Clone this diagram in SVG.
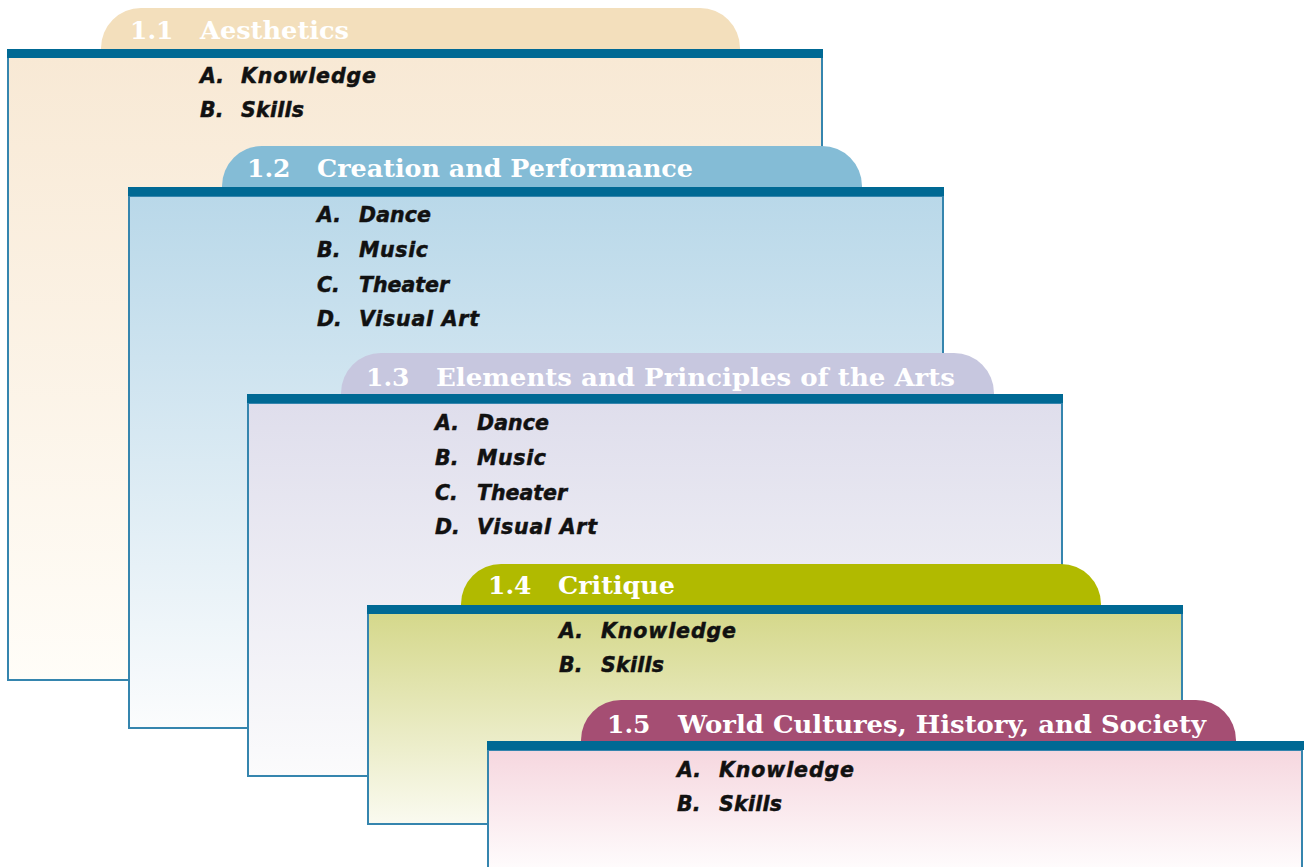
<svg xmlns="http://www.w3.org/2000/svg" width="1304" height="867" viewBox="0 0 1304 867">
<defs>
<linearGradient id="g1" x1="0" y1="0" x2="0" y2="1"><stop offset="0" stop-color="#f8e9d5"/><stop offset="1" stop-color="#fffdf8"/></linearGradient>
<linearGradient id="g2" x1="0" y1="0" x2="0" y2="1"><stop offset="0" stop-color="#b9d8e9"/><stop offset="1" stop-color="#fbfcfd"/></linearGradient>
<linearGradient id="g3" x1="0" y1="0" x2="0" y2="1"><stop offset="0" stop-color="#dfdeec"/><stop offset="1" stop-color="#fbfbfc"/></linearGradient>
<linearGradient id="g4" x1="0" y1="0" x2="0" y2="1"><stop offset="0" stop-color="#d5d88b"/><stop offset="1" stop-color="#fafaf0"/></linearGradient>
<linearGradient id="g5" x1="0" y1="0" x2="0" y2="1"><stop offset="0" stop-color="#f6d7df"/><stop offset="1" stop-color="#ffffff"/></linearGradient>
</defs>
<style>
.body{stroke:#3585ae;stroke-width:2}
.bar{fill:#006994}
.title{font-family:"DejaVu Serif",serif;font-weight:bold;font-size:25px;fill:#ffffff}
.item{font-family:"DejaVu Sans",sans-serif;font-weight:bold;font-style:italic;font-size:20.5px;fill:#111111;stroke:#111111;stroke-width:0.5}
</style>

<g id="panel1">
<rect class="body" x="8" y="57" width="814" height="623" fill="url(#g1)"/>
<path d="M101,49 L101,48 A40,40 0 0 1 141,8 L700,8 A40,40 0 0 1 740,48 L740,49 Z" fill="#f3dfbc"/>
<rect class="bar" x="7" y="49" width="816" height="9"/>
<text class="title" x="130" y="39">1.1</text>
<text class="title" x="200" y="39" textLength="149" lengthAdjust="spacingAndGlyphs">Aesthetics</text>
<text class="item" x="200" y="83">A.</text><text class="item" x="241" y="83" textLength="135" lengthAdjust="spacing">Knowledge</text>
<text class="item" x="200" y="117">B.</text><text class="item" x="241" y="117" textLength="63" lengthAdjust="spacing">Skills</text>
</g>

<g id="panel2">
<rect class="body" x="129" y="196" width="814" height="532" fill="url(#g2)"/>
<path d="M222,187 L222,186 A40,40 0 0 1 262,146 L822,146 A40,40 0 0 1 862,186 L862,187 Z" fill="#84bcd6"/>
<rect class="bar" x="128" y="187" width="816" height="9"/>
<text class="title" x="247" y="177">1.2</text>
<text class="title" x="317" y="177" textLength="376" lengthAdjust="spacingAndGlyphs">Creation and Performance</text>
<text class="item" x="317" y="222">A.</text><text class="item" x="359" y="222" textLength="72" lengthAdjust="spacing">Dance</text>
<text class="item" x="317" y="257">B.</text><text class="item" x="359" y="257" textLength="69" lengthAdjust="spacing">Music</text>
<text class="item" x="317" y="292">C.</text><text class="item" x="359" y="292" textLength="90" lengthAdjust="spacing">Theater</text>
<text class="item" x="317" y="326">D.</text><text class="item" x="359" y="326" textLength="120" lengthAdjust="spacing">Visual Art</text>
</g>

<g id="panel3">
<rect class="body" x="248" y="403" width="814" height="373" fill="url(#g3)"/>
<path d="M341,394 L341,393 A40,40 0 0 1 381,353 L954,353 A40,40 0 0 1 994,393 L994,394 Z" fill="#c7c7df"/>
<rect class="bar" x="247" y="394" width="816" height="9"/>
<text class="title" x="366" y="386">1.3</text>
<text class="title" x="436" y="386" textLength="519" lengthAdjust="spacingAndGlyphs">Elements and Principles of the Arts</text>
<text class="item" x="435" y="430">A.</text><text class="item" x="477" y="430" textLength="72" lengthAdjust="spacing">Dance</text>
<text class="item" x="435" y="465">B.</text><text class="item" x="477" y="465" textLength="69" lengthAdjust="spacing">Music</text>
<text class="item" x="435" y="500">C.</text><text class="item" x="477" y="500" textLength="90" lengthAdjust="spacing">Theater</text>
<text class="item" x="435" y="534">D.</text><text class="item" x="477" y="534" textLength="120" lengthAdjust="spacing">Visual Art</text>
</g>

<g id="panel4">
<rect class="body" x="368" y="613" width="814" height="211" fill="url(#g4)"/>
<path d="M461,605 L461,604 A40,40 0 0 1 501,564 L1061,564 A40,40 0 0 1 1101,604 L1101,605 Z" fill="#b1ba00"/>
<rect class="bar" x="367" y="605" width="816" height="9"/>
<text class="title" x="488" y="594">1.4</text>
<text class="title" x="558" y="594" textLength="117" lengthAdjust="spacingAndGlyphs">Critique</text>
<text class="item" x="559" y="638">A.</text><text class="item" x="601" y="638" textLength="135" lengthAdjust="spacing">Knowledge</text>
<text class="item" x="559" y="672">B.</text><text class="item" x="601" y="672" textLength="63" lengthAdjust="spacing">Skills</text>
</g>

<g id="panel5">
<rect class="body" x="488" y="750" width="814" height="130" fill="url(#g5)"/>
<path d="M581,741 L581,740 A40,40 0 0 1 621,700 L1196,700 A40,40 0 0 1 1236,740 L1236,741 Z" fill="#a54e73"/>
<rect class="bar" x="487" y="741" width="817" height="9"/>
<text class="title" x="607" y="733">1.5</text>
<text class="title" x="678" y="733" textLength="528" lengthAdjust="spacingAndGlyphs">World Cultures, History, and Society</text>
<text class="item" x="677" y="777">A.</text><text class="item" x="719" y="777" textLength="135" lengthAdjust="spacing">Knowledge</text>
<text class="item" x="677" y="811">B.</text><text class="item" x="719" y="811" textLength="63" lengthAdjust="spacing">Skills</text>
</g>

<g id="connectors"></g>
</svg>
